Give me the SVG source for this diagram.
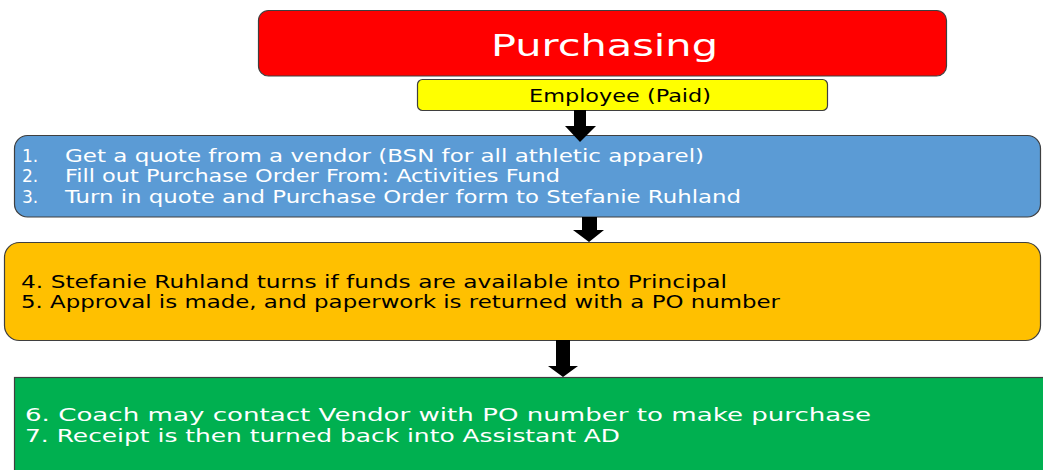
<svg xmlns="http://www.w3.org/2000/svg" width="1043" height="470" viewBox="0 0 1043 470">
<style>
.box{stroke:#3f3f3f;stroke-width:1.2}
.t{font-family:"DejaVu Sans","Liberation Sans",sans-serif}
.w{fill:#ffffff}
.k{fill:#000000}
.arrow{fill:#000000}
</style>
<rect width="1043" height="470" fill="#ffffff"/>
<g id="node-purchasing">
<rect class="box" x="258.5" y="10.5" width="688" height="65.5" rx="10" fill="#ff0000"/>
<text class="t w" x="491" y="56" font-size="31" textLength="227" lengthAdjust="spacingAndGlyphs">Purchasing</text>
</g>
<g id="node-employee">
<rect class="box" x="417.5" y="79.5" width="410" height="31" rx="5" fill="#ffff00"/>
<text class="t k" x="529" y="102" font-size="17" textLength="182" lengthAdjust="spacingAndGlyphs">Employee (Paid)</text>
</g>
<g id="node-steps-1-3">
<rect class="box" x="14.5" y="135.5" width="1026" height="81.5" rx="13" fill="#5b9bd5"/>
<g class="t w" font-size="17">
<text x="22" y="162">1.</text>
<text x="65" y="162" textLength="639" lengthAdjust="spacingAndGlyphs">Get a quote from a vendor (BSN for all athletic apparel)</text>
<text x="22" y="182">2.</text>
<text x="65" y="182" textLength="495" lengthAdjust="spacingAndGlyphs">Fill out Purchase Order From: Activities Fund</text>
<text x="22" y="203">3.</text>
<text x="65" y="203" textLength="676" lengthAdjust="spacingAndGlyphs">Turn in quote and Purchase Order form to Stefanie Ruhland</text>
</g>
</g>
<g id="node-steps-4-5">
<rect class="box" x="4.5" y="242.5" width="1036" height="98" rx="15" fill="#ffc000"/>
<g class="t k" font-size="17">
<text x="21" y="288" textLength="706" lengthAdjust="spacingAndGlyphs">4. Stefanie Ruhland turns if funds are available into Principal</text>
<text x="21" y="308" textLength="759" lengthAdjust="spacingAndGlyphs">5. Approval is made, and paperwork is returned with a PO number</text>
</g>
</g>
<g id="node-steps-6-7">
<rect class="box" x="14.5" y="377.5" width="1040" height="100" fill="#00b050"/>
<g class="t w" font-size="18">
<text x="25" y="421" textLength="846" lengthAdjust="spacingAndGlyphs">6. Coach may contact Vendor with PO number to make purchase</text>
<text x="25" y="442" textLength="595" lengthAdjust="spacingAndGlyphs">7. Receipt is then turned back into Assistant AD</text>
</g>
</g>
<g id="connectors">
<polygon class="arrow" points="574,110 586,110 586,126 596,126 580,142 565,126 574,126"/>
<polygon class="arrow" points="582,217 597,217 597,230 604,230 589,242 573,230 582,230"/>
<polygon class="arrow" points="556,340 570,340 570,366 578,366 563,377 548,366 556,366"/>
</g>
</svg>
